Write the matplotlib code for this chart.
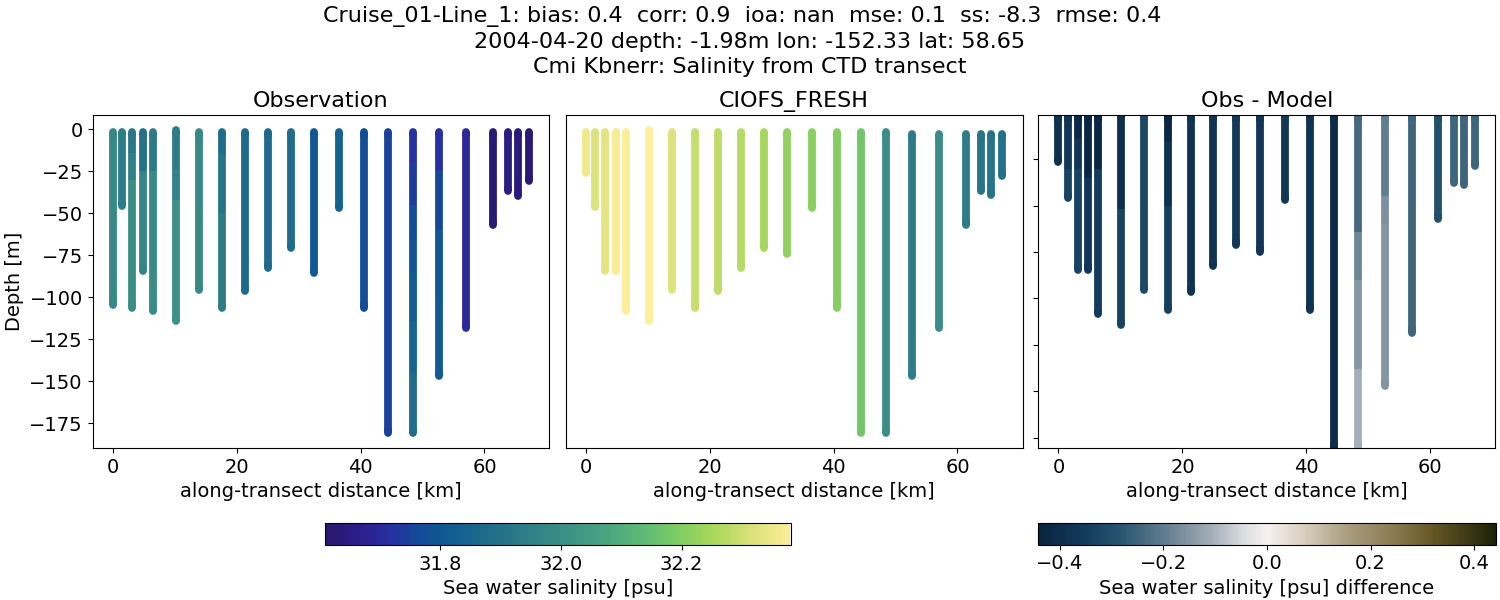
import matplotlib
matplotlib.use("Agg")
import matplotlib.pyplot as plt
from matplotlib.collections import LineCollection
from matplotlib.colors import LinearSegmentedColormap, Normalize
from matplotlib.cm import ScalarMappable

# ---- data ----
STATION_KM = [0, 1.46, 3.13, 4.8, 6.4, 10.13, 13.85, 17.6, 21.3, 25, 28.7, 32.5,
              36.5, 40.5, 44.4, 48.4, 52.7, 57, 61.3, 63.8, 65.4, 67.2]
OBS_BOTTOM = [104.5, 45.8, 106.3, 84.5, 108.3, 114.2, 95.4, 106.3, 96.4, 82.7, 70.6,
              85.5, 46.8, 106.3, 180.7, 180.7, 147, 118.2, 56.7, 37, 40, 31]
MODEL_BOTTOM = [26, 46, 84.5, 84.5, 108.3, 114.2, 95.4, 106.3, 96.4, 82.7, 70.6,
                74.5, 46.8, 106.3, 180.7, 180.7, 147, 118.2, 56.7, 37, 39, 28]
DIFF_BOTTOM = [26.6, 46, 84.7, 84.7, 108.5, 114.4, 95.5, 106.3, 96.6, 82.7, 71,
               75, 47, 106.3, 180.7, 180.7, 147, 118.4, 57, 37.5, 39, 28.6]
TOP_OBS = [1.7, 1.7, 1.7, 1.7, 1.7, 0.3, 1.7, 1.7, 1.7, 1.7, 1.7, 1.7, 1.7, 1.7, 1.7, 1.7, 1.7, 1.7, 1.7, 1.7, 1.7, 1.7]
TOP_MODEL = [1.7, 1.7, 1.7, 1.7, 1.7, 0.3, 1.7, 1.7, 1.7, 1.7, 1.7, 1.7, 1.7, 1.7, 1.7, 1.7, 2.7, 2.7, 2.7, 2.7, 2.7, 2.7]

# (depth where the colour band ends, value); the last band runs to the bottom
OBS_BANDS = [
    [(999, 31.98)], [(999, 31.94)], [(14, 31.92), (30, 31.95), (999, 32.0)],
    [(25, 31.90), (999, 31.97)], [(25, 31.93), (999, 31.99)],
    [(25, 31.94), (42, 31.96), (999, 32.01)], [(999, 31.98)],
    [(15, 31.88), (50, 31.91), (999, 31.94)], [(999, 31.87)], [(999, 31.87)], [(999, 31.88)],
    [(999, 31.80)], [(999, 31.84)], [(999, 31.77)], [(999, 31.75)],
    [(20, 31.72), (45, 31.74), (65, 31.77), (85, 31.79), (115, 31.82), (145, 31.85), (999, 31.88)],
    [(25, 31.72), (60, 31.76), (100, 31.80), (999, 31.81)], [(999, 31.70)], [(999, 31.63)], [(999, 31.65)],
    [(999, 31.64)], [(999, 31.63)],
]
MODEL_VALUES = [32.35, 32.32, 32.33, 32.37, 32.38, 32.38, 32.32, 32.29, 32.28, 32.27, 32.25,
                32.22, 32.21, 32.20, 32.17, 32.0, 31.94, 32.0, 31.94, 31.91, 31.91, 31.9]
DIFF_BANDS = [
    [(999, -0.39)], [(30, -0.37), (999, -0.33)], [(14, -0.42), (30, -0.37), (999, -0.33)],
    [(35, -0.43), (999, -0.37)], [(30, -0.43), (999, -0.35)],
    [(52, -0.40), (999, -0.33)], [(999, -0.32)], [(15, -0.43), (50, -0.39), (999, -0.34)],
    [(999, -0.38)], [(999, -0.38)], [(999, -0.36)], [(999, -0.37)], [(999, -0.36)],
    [(999, -0.38)], [(999, -0.41)],
    [(64, -0.24), (90, -0.18), (138, -0.15), (999, -0.105)],
    [(45, -0.20), (60, -0.16), (999, -0.155)], [(999, -0.25)], [(999, -0.30)],
    [(999, -0.25)], [(999, -0.25)], [(999, -0.25)],
]

SUPTITLE = ("Cruise_01-Line_1: bias: 0.4  corr: 0.9  ioa: nan  mse: 0.1  ss: -8.3  rmse: 0.4  \n"
            "2004-04-20 depth: -1.98m lon: -152.33 lat: 58.65\n"
            "Cmi Kbnerr: Salinity from CTD transect")
PANEL_TITLES = ["Observation", "CIOFS_FRESH", "Obs - Model"]
XTICKS = [0, 20, 40, 60]
YTICKS = [0, -25, -50, -75, -100, -125, -150, -175]
SAL_TICKS = [31.8, 32.0, 32.2]
DIFF_TICKS = [-0.4, -0.2, 0.0, 0.2, 0.4]
SAL_RANGE = (31.61, 32.38)
DIFF_RANGE = (-0.442, 0.442)

haline = LinearSegmentedColormap.from_list("haline_like", [
    (0.00, "#2a186c"), (0.08, "#2b1f8e"), (0.14, "#2730a2"), (0.20, "#134b98"), (0.28, "#105f90"),
    (0.38, "#267289"), (0.48, "#368887"), (0.58, "#449f82"), (0.68, "#5cb876"), (0.76, "#7fcd63"),
    (0.84, "#acd85c"), (0.92, "#dbe27a"), (1.00, "#fdee99")])
diff = LinearSegmentedColormap.from_list("diff_like", [
    (0.00, "#08243f"), (0.10, "#123a5c"), (0.18, "#27566f"), (0.28, "#647f92"), (0.38, "#a4afb8"),
    (0.45, "#dcdfe1"), (0.50, "#f5f1ef"), (0.57, "#ddd4c6"), (0.68, "#a89c7e"), (0.78, "#8a7a50"),
    (0.86, "#665826"), (0.94, "#3c3a14"), (1.00, "#1c2108")])

W, H = 1500, 600
plt.rcParams.update({"font.size": 14, "font.family": "DejaVu Sans"})
fig = plt.figure(figsize=(W / 100, H / 100), dpi=100)


def box(x0, x1, y0, y1):
    return [x0 / W, 1 - y1 / H, (x1 - x0) / W, (y1 - y0) / H]


ax1 = fig.add_axes(box(92.5, 549.5, 115, 448))
ax2 = fig.add_axes(box(565.5, 1022.5, 115, 448))
ax3 = fig.add_axes(box(1038, 1495.5, 115, 448))


def draw(ax, all_bands, tops, bottoms, cmap, rng):
    norm = Normalize(*rng)
    for km, bands, top, bottom in zip(STATION_KM, all_bands, tops, bottoms):
        start = top
        parts = []
        for end, v in bands:
            stop = min(end, bottom)
            if stop > start:
                parts.append((start, stop, v))
            start = stop
        # round ends first, square-cut colour bands over them
        first, last = parts[0], parts[-1]
        ax.add_collection(LineCollection([((km, -first[0]), (km, -first[0] - 2))],
                                         colors=[cmap(norm(first[2]))], linewidths=5.6, capstyle="round"))
        ax.add_collection(LineCollection([((km, -last[1] + 2), (km, -last[1]))],
                                         colors=[cmap(norm(last[2]))], linewidths=5.6, capstyle="round"))
        for a, b, v in parts:
            ax.add_collection(LineCollection([((km, -a), (km, -b))], colors=[cmap(norm(v))],
                                             linewidths=5.6, capstyle="butt"))


draw(ax1, OBS_BANDS, TOP_OBS, OBS_BOTTOM, haline, SAL_RANGE)
draw(ax2, [[(999, v)] for v in MODEL_VALUES], TOP_MODEL, MODEL_BOTTOM, haline, SAL_RANGE)
draw(ax3, DIFF_BANDS, TOP_OBS, DIFF_BOTTOM, diff, DIFF_RANGE)

for ax, title in zip((ax1, ax2, ax3), PANEL_TITLES):
    ax.set_title(title, fontsize=16, pad=6)
    ax.set_xlim(-3.3, 70.5)
    ax.set_xticks(XTICKS)
    ax.set_xlabel("along-transect distance [km]", fontsize=14)
    ax.tick_params(labelsize=14)

ax1.set_ylim(-189.7, 8.5)
ax1.set_yticks(YTICKS)
ax1.set_ylabel("Depth [m]", fontsize=14, labelpad=4)
ax2.set_ylim(-189.7, 8.5)
ax2.set_yticks([])
ax3.set_ylim(-180.6, -1.1)
ax3.set_yticks(YTICKS[1:])
ax3.tick_params(labelleft=False)

fig.suptitle(SUPTITLE, fontsize=16, x=0.4998, y=0.99, va="top", linespacing=1.3)

cax1 = fig.add_axes(box(325, 790.5, 522.5, 545))
cb1 = fig.colorbar(ScalarMappable(Normalize(*SAL_RANGE), haline), cax=cax1, orientation="horizontal")
cb1.set_ticks(SAL_TICKS)
cb1.set_label("Sea water salinity [psu]", fontsize=14)
cb1.ax.tick_params(labelsize=14)

cax2 = fig.add_axes(box(1038, 1496, 522.5, 544.5))
cb2 = fig.colorbar(ScalarMappable(Normalize(*DIFF_RANGE), diff), cax=cax2, orientation="horizontal")
cb2.set_ticks(DIFF_TICKS)
cb2.set_label("Sea water salinity [psu] difference", fontsize=14)
cb2.ax.tick_params(labelsize=14)

fig.savefig("out.png", dpi=100)
